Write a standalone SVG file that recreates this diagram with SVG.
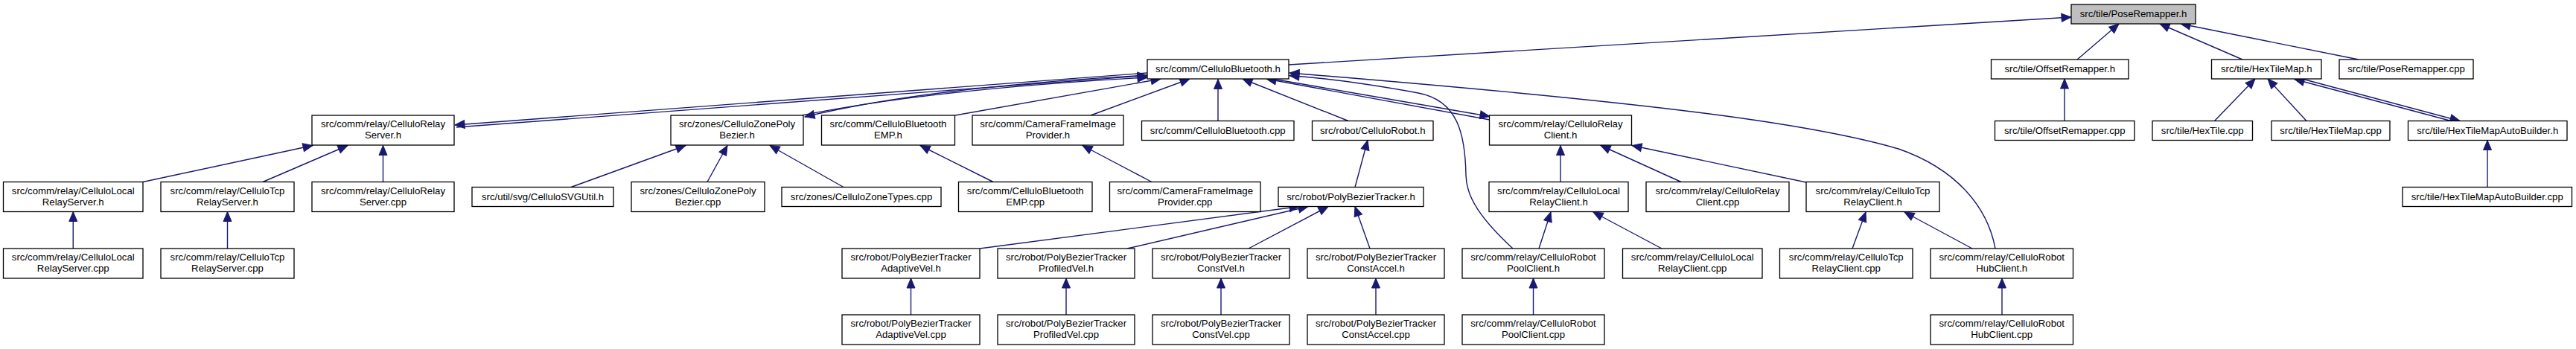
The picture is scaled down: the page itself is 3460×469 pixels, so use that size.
<svg xmlns="http://www.w3.org/2000/svg" width="3460" height="469" viewBox="0 0 3460 469">
<style>
.n rect{fill:#fff;stroke:#000;stroke-width:1.3}
.root rect{fill:#bfbfbf}
text{font-family:"Liberation Sans",Arial,Helvetica,sans-serif;font-size:13.2px;text-anchor:middle;fill:#000}
.e path{fill:none;stroke:#191970;stroke-width:1.4;marker-end:url(#ah)}
</style>
<defs>
<marker id="ah" markerUnits="userSpaceOnUse" markerWidth="14" markerHeight="12" refX="13" refY="5.5" orient="auto" overflow="visible">
<path d="M0,0 L13,5.5 L0,11 z" fill="#191970" stroke="#191970" stroke-width="1"/>
</marker>
</defs>
<rect width="3460" height="469" fill="#fff"/>
<g id="edges" class="e">
<path d="M1731,87 L2782,23"/>
<path d="M2790,80 L2846,32"/>
<path d="M3012,80 L2901,32"/>
<path d="M3168,80 L2929,32"/>
<path d="M2773,162.5 L2773,106"/>
<path d="M2974.5,162.5 L3029,106"/>
<path d="M3098,162.5 L3046,106"/>
<path d="M3292,162.5 L3082,106.5"/>
<path d="M3094,106.5 L3304,162.5"/>
<path d="M3341,251.5 L3341,188.5"/>
<path d="M613,171 L1541,101.5"/>
<path d="M1541,98 L611,168"/>
<path d="M1077,155 Q1250,120 1541,104"/>
<path d="M1541,101 Q1245,117 1081,157"/>
<path d="M1283,155 L1559,106"/>
<path d="M1465,155 L1598,106"/>
<path d="M1636,162.5 L1636,106.5"/>
<path d="M1811,162.5 L1669,106"/>
<path d="M2001,161 L1701,106"/>
<path d="M1712,106.5 L2001,156.5"/>
<path d="M2032,334 C1990,295 1969,265 1969,235 C1968,180 1958,135 1905,125 C1850,115 1780,105 1732,101.5"/>
<path d="M2680,334 C2670,280 2630,228 2550,200 C2440,168 2250,140 1732,98"/>
<path d="M2096,244.5 L2096,195.5"/>
<path d="M2258,244.5 L2150,195.5"/>
<path d="M2426,245 L2192,195.5"/>
<path d="M2067,334 L2083,285"/>
<path d="M2232,334 L2140,285"/>
<path d="M2488,334 L2506,285"/>
<path d="M2649,334 L2558,285"/>
<path d="M2689,423 L2689,374"/>
<path d="M2059.5,423 L2059.5,374"/>
<path d="M1820,251.5 L1837,188.5"/>
<path d="M1316,334 L1745,277.5"/>
<path d="M1514,334 L1757,277.5"/>
<path d="M1677,334 L1784,277.5"/>
<path d="M1840,334 L1820,277.5"/>
<path d="M1223.5,423 L1223.5,374"/>
<path d="M1432,423 L1432,374"/>
<path d="M1640,423 L1640,374"/>
<path d="M1848,423 L1848,374"/>
<path d="M1547,244.5 L1454,195.5"/>
<path d="M1334,244.5 L1236,195.5"/>
<path d="M767,251.5 L921,195.5"/>
<path d="M950,244.5 L977,195.5"/>
<path d="M1133,251.5 L1034,195.5"/>
<path d="M192,244.5 L420,195.5"/>
<path d="M353,244.5 L467,195.5"/>
<path d="M514.5,244.5 L514.5,195.5"/>
<path d="M98.25,334 L98.25,284.5"/>
<path d="M305.5,334 L305.5,284.5"/>
</g>
<g id="n_PoseRemapper_h" class="n root"><rect x="2782" y="6" width="167" height="26"/><text x="2865.5" y="23">src/tile/PoseRemapper.h</text></g>
<g id="n_CelluloBluetooth_h" class="n"><rect x="1541" y="80" width="190" height="26"/><text x="1636" y="97">src/comm/CelluloBluetooth.h</text></g>
<g id="n_OffsetRemapper_h" class="n"><rect x="2674.5" y="80" width="184.5" height="26"/><text x="2766.75" y="97">src/tile/OffsetRemapper.h</text></g>
<g id="n_HexTileMap_h" class="n"><rect x="2970.5" y="80" width="147.5" height="26"/><text x="3044.25" y="97">src/tile/HexTileMap.h</text></g>
<g id="n_PoseRemapper_cpp" class="n"><rect x="3142" y="80" width="180" height="26"/><text x="3232" y="97">src/tile/PoseRemapper.cpp</text></g>
<g id="n_CelluloRelayServer_h" class="n"><rect x="419" y="155" width="191" height="40"/><text x="514.5" y="171">src/comm/relay/CelluloRelay</text><text x="514.5" y="186">Server.h</text></g>
<g id="n_CelluloZonePolyBezier_h" class="n"><rect x="901" y="155" width="178" height="40"/><text x="990" y="171">src/zones/CelluloZonePoly</text><text x="990" y="186">Bezier.h</text></g>
<g id="n_CelluloBluetoothEMP_h" class="n"><rect x="1103.5" y="155" width="179" height="40"/><text x="1193" y="171">src/comm/CelluloBluetooth</text><text x="1193" y="186">EMP.h</text></g>
<g id="n_CameraFrameImageProvider_h" class="n"><rect x="1306" y="155" width="203" height="40"/><text x="1407.5" y="171">src/comm/CameraFrameImage</text><text x="1407.5" y="186">Provider.h</text></g>
<g id="n_CelluloBluetooth_cpp" class="n"><rect x="1533.5" y="162.5" width="204.5" height="26"/><text x="1635.75" y="179.5">src/comm/CelluloBluetooth.cpp</text></g>
<g id="n_CelluloRobot_h" class="n"><rect x="1762.5" y="162.5" width="162.5" height="26"/><text x="1843.75" y="179.5">src/robot/CelluloRobot.h</text></g>
<g id="n_CelluloRelayClient_h" class="n"><rect x="2000.5" y="155" width="191" height="40"/><text x="2096" y="171">src/comm/relay/CelluloRelay</text><text x="2096" y="186">Client.h</text></g>
<g id="n_OffsetRemapper_cpp" class="n"><rect x="2679.5" y="162.5" width="187.5" height="26"/><text x="2773.25" y="179.5">src/tile/OffsetRemapper.cpp</text></g>
<g id="n_HexTile_cpp" class="n"><rect x="2891" y="162.5" width="134.5" height="26"/><text x="2958.25" y="179.5">src/tile/HexTile.cpp</text></g>
<g id="n_HexTileMap_cpp" class="n"><rect x="3051" y="162.5" width="159" height="26"/><text x="3130.5" y="179.5">src/tile/HexTileMap.cpp</text></g>
<g id="n_HexTileMapAutoBuilder_h" class="n"><rect x="3234.5" y="162.5" width="213.5" height="26"/><text x="3341.25" y="179.5">src/tile/HexTileMapAutoBuilder.h</text></g>
<g id="n_CelluloLocalRelayServer_h" class="n"><rect x="4.5" y="244.5" width="187.5" height="40"/><text x="98.25" y="260.5">src/comm/relay/CelluloLocal</text><text x="98.25" y="275.5">RelayServer.h</text></g>
<g id="n_CelluloTcpRelayServer_h" class="n"><rect x="216" y="244.5" width="179" height="40"/><text x="305.5" y="260.5">src/comm/relay/CelluloTcp</text><text x="305.5" y="275.5">RelayServer.h</text></g>
<g id="n_CelluloRelayServer_cpp" class="n"><rect x="419" y="244.5" width="191" height="40"/><text x="514.5" y="260.5">src/comm/relay/CelluloRelay</text><text x="514.5" y="275.5">Server.cpp</text></g>
<g id="n_CelluloSVGUtil_h" class="n"><rect x="634" y="251.5" width="190" height="26"/><text x="729" y="268.5">src/util/svg/CelluloSVGUtil.h</text></g>
<g id="n_CelluloZonePolyBezier_cpp" class="n"><rect x="848" y="244.5" width="179" height="40"/><text x="937.5" y="260.5">src/zones/CelluloZonePoly</text><text x="937.5" y="275.5">Bezier.cpp</text></g>
<g id="n_CelluloZoneTypes_cpp" class="n"><rect x="1050" y="251.5" width="214" height="26"/><text x="1157" y="268.5">src/zones/CelluloZoneTypes.cpp</text></g>
<g id="n_CelluloBluetoothEMP_cpp" class="n"><rect x="1287.5" y="244.5" width="179.5" height="40"/><text x="1377.25" y="260.5">src/comm/CelluloBluetooth</text><text x="1377.25" y="275.5">EMP.cpp</text></g>
<g id="n_CameraFrameImageProvider_cpp" class="n"><rect x="1490.5" y="244.5" width="202.5" height="40"/><text x="1591.75" y="260.5">src/comm/CameraFrameImage</text><text x="1591.75" y="275.5">Provider.cpp</text></g>
<g id="n_PolyBezierTracker_h" class="n"><rect x="1717" y="251.5" width="195" height="26"/><text x="1814.5" y="268.5">src/robot/PolyBezierTracker.h</text></g>
<g id="n_CelluloLocalRelayClient_h" class="n"><rect x="2000" y="244.5" width="187" height="40"/><text x="2093.5" y="260.5">src/comm/relay/CelluloLocal</text><text x="2093.5" y="275.5">RelayClient.h</text></g>
<g id="n_CelluloRelayClient_cpp" class="n"><rect x="2211" y="244.5" width="192" height="40"/><text x="2307" y="260.5">src/comm/relay/CelluloRelay</text><text x="2307" y="275.5">Client.cpp</text></g>
<g id="n_CelluloTcpRelayClient_h" class="n"><rect x="2426" y="244.5" width="179" height="40"/><text x="2515.5" y="260.5">src/comm/relay/CelluloTcp</text><text x="2515.5" y="275.5">RelayClient.h</text></g>
<g id="n_HexTileMapAutoBuilder_cpp" class="n"><rect x="3227" y="251.5" width="227.5" height="26"/><text x="3340.75" y="268.5">src/tile/HexTileMapAutoBuilder.cpp</text></g>
<g id="n_CelluloLocalRelayServer_cpp" class="n"><rect x="4.5" y="334" width="187.5" height="40"/><text x="98.25" y="350">src/comm/relay/CelluloLocal</text><text x="98.25" y="365">RelayServer.cpp</text></g>
<g id="n_CelluloTcpRelayServer_cpp" class="n"><rect x="216" y="334" width="179" height="40"/><text x="305.5" y="350">src/comm/relay/CelluloTcp</text><text x="305.5" y="365">RelayServer.cpp</text></g>
<g id="n_PBTAdaptiveVel_h" class="n"><rect x="1131" y="334" width="185" height="40"/><text x="1223.5" y="350">src/robot/PolyBezierTracker</text><text x="1223.5" y="365">AdaptiveVel.h</text></g>
<g id="n_PBTProfiledVel_h" class="n"><rect x="1340" y="334" width="184" height="40"/><text x="1432" y="350">src/robot/PolyBezierTracker</text><text x="1432" y="365">ProfiledVel.h</text></g>
<g id="n_PBTConstVel_h" class="n"><rect x="1548" y="334" width="184" height="40"/><text x="1640" y="350">src/robot/PolyBezierTracker</text><text x="1640" y="365">ConstVel.h</text></g>
<g id="n_PBTConstAccel_h" class="n"><rect x="1756" y="334" width="184" height="40"/><text x="1848" y="350">src/robot/PolyBezierTracker</text><text x="1848" y="365">ConstAccel.h</text></g>
<g id="n_CelluloRobotPoolClient_h" class="n"><rect x="1964" y="334" width="191" height="40"/><text x="2059.5" y="350">src/comm/relay/CelluloRobot</text><text x="2059.5" y="365">PoolClient.h</text></g>
<g id="n_CelluloLocalRelayClient_cpp" class="n"><rect x="2179.5" y="334" width="187.5" height="40"/><text x="2273.25" y="350">src/comm/relay/CelluloLocal</text><text x="2273.25" y="365">RelayClient.cpp</text></g>
<g id="n_CelluloTcpRelayClient_cpp" class="n"><rect x="2390.5" y="334" width="178.5" height="40"/><text x="2479.75" y="350">src/comm/relay/CelluloTcp</text><text x="2479.75" y="365">RelayClient.cpp</text></g>
<g id="n_CelluloRobotHubClient_h" class="n"><rect x="2593" y="334" width="191.5" height="40"/><text x="2688.75" y="350">src/comm/relay/CelluloRobot</text><text x="2688.75" y="365">HubClient.h</text></g>
<g id="n_PBTAdaptiveVel_cpp" class="n"><rect x="1131" y="423" width="185" height="40"/><text x="1223.5" y="439">src/robot/PolyBezierTracker</text><text x="1223.5" y="454">AdaptiveVel.cpp</text></g>
<g id="n_PBTProfiledVel_cpp" class="n"><rect x="1340" y="423" width="184" height="40"/><text x="1432" y="439">src/robot/PolyBezierTracker</text><text x="1432" y="454">ProfiledVel.cpp</text></g>
<g id="n_PBTConstVel_cpp" class="n"><rect x="1548" y="423" width="184" height="40"/><text x="1640" y="439">src/robot/PolyBezierTracker</text><text x="1640" y="454">ConstVel.cpp</text></g>
<g id="n_PBTConstAccel_cpp" class="n"><rect x="1756" y="423" width="184" height="40"/><text x="1848" y="439">src/robot/PolyBezierTracker</text><text x="1848" y="454">ConstAccel.cpp</text></g>
<g id="n_CelluloRobotPoolClient_cpp" class="n"><rect x="1964" y="423" width="191" height="40"/><text x="2059.5" y="439">src/comm/relay/CelluloRobot</text><text x="2059.5" y="454">PoolClient.cpp</text></g>
<g id="n_CelluloRobotHubClient_cpp" class="n"><rect x="2593" y="423" width="191.5" height="40"/><text x="2688.75" y="439">src/comm/relay/CelluloRobot</text><text x="2688.75" y="454">HubClient.cpp</text></g>
</svg>
